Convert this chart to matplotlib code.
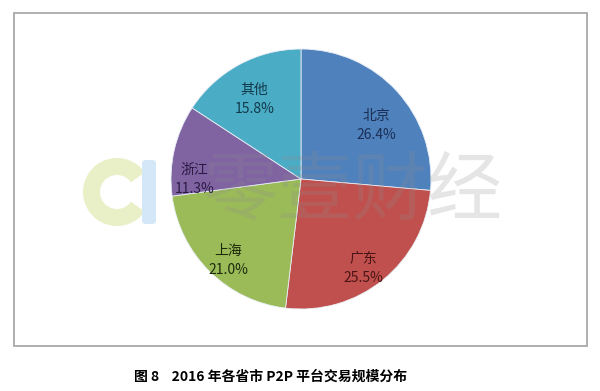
import matplotlib
matplotlib.use("Agg")
import numpy as np
import matplotlib.pyplot as plt
from matplotlib.patches import Rectangle, Wedge, FancyBboxPatch

plt.rcParams['font.family'] = ['Noto Sans CJK SC', 'DejaVu Sans']

# Data
categories = ['北京', '广东', '上海', '浙江', '其他']
shares = [26.4, 25.5, 21.0, 11.3, 15.8]
colors = ['#4F81BD', '#C0504D', '#9BBB59', '#8064A2', '#4BACC6']
text_colors = ['#1B2F55', '#4A1414', '#1C2A0C', '#2A1B45', '#12394A']
caption = '图 8    2016 年各省市 P2P 平台交易规模分布'
watermark = '零壹财经'

# label placement style (radial distance, angular nudge in degrees)
label_dist = [0.71, 0.84, 0.84, 0.82, 0.71]
label_nudge = [-7, -4, 3, 13, 2]

W, H = 600, 391
fig = plt.figure(figsize=(W / 100, H / 100), dpi=100)
fig.patch.set_facecolor('white')

bg = fig.add_axes([0, 0, 1, 1], zorder=0)
bg.set_xlim(0, W)
bg.set_ylim(H, 0)
bg.axis('off')

bg.add_patch(Rectangle((14, 13), 573, 333, fill=False, edgecolor='#A9A9A9', linewidth=1.3))

bg.add_patch(Wedge((117, 192), 34, 35, 325, width=17, facecolor='#E9F0C8', edgecolor='none'))
bg.add_patch(FancyBboxPatch((142, 160), 14, 64, boxstyle='round,pad=0,rounding_size=4',
                            facecolor='#D3E7F8', edgecolor='none'))

cx, cy, r = 301, 179, 130
ax = fig.add_axes([(cx - r) / W, (H - cy - r) / H, 2 * r / W, 2 * r / H], zorder=1)
wedges, _ = ax.pie(shares, colors=colors, startangle=90, counterclock=False,
                   wedgeprops=dict(edgecolor='#E8EEF5', linewidth=0.6))
ax.set_aspect('auto')
ax.set_xlim(-1, 1)
ax.set_ylim(-1, 1)

ov = fig.add_axes([(cx - r) / W, (H - cy - r) / H, 2 * r / W, 2 * r / H], zorder=2)
ov.set_xlim(-1, 1)
ov.set_ylim(-1, 1)
ov.axis('off')
ov.patch.set_alpha(0)

# watermark text (overlay, above wedges)
ov.text(0.395, -0.1, watermark, fontsize=54, color='#8C8C8C', alpha=0.22,
        ha='center', va='center', clip_on=False)

for w, c, v, tc, d, n in zip(wedges, categories, shares, text_colors, label_dist, label_nudge):
    ang = np.deg2rad((w.theta1 + w.theta2) / 2 + n)
    ov.text(d * np.cos(ang), d * np.sin(ang), f'{c}\n{v:.1f}%', fontsize=10,
            color=tc, ha='center', va='center', linespacing=1.5, multialignment='center')

fig.text(271 / W, 1 - 377 / H, caption, fontsize=10, fontweight='bold',
         ha='center', va='center', color='black')

fig.savefig('out.png', dpi=100)
